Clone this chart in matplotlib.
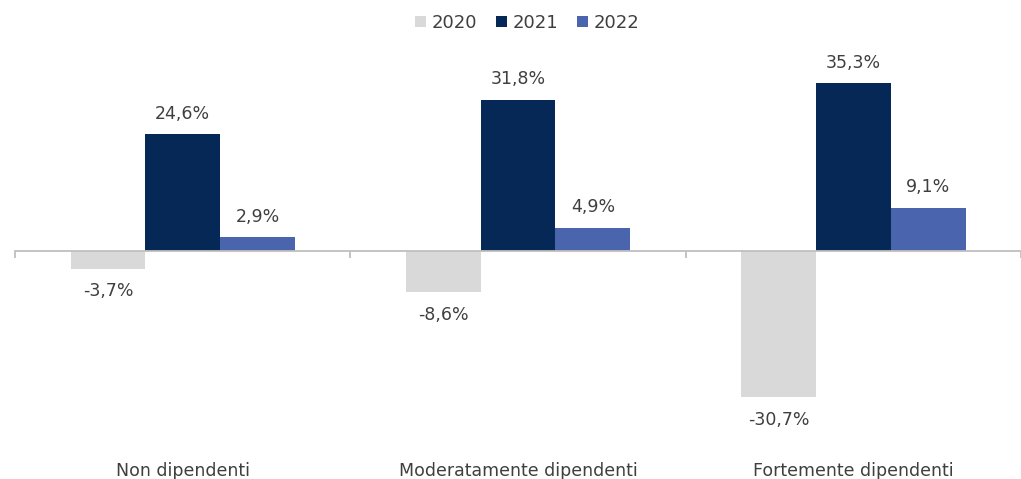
import numpy as np
import matplotlib
matplotlib.use("Agg")
import matplotlib.pyplot as plt
from matplotlib.patches import Patch

# categories and yearly change (%)
categories = ["Non dipendenti", "Moderatamente dipendenti", "Fortemente dipendenti"]
years = ["2020", "2021", "2022"]
val_2020 = [-3.7, -8.6, -30.7]
val_2021 = [24.6, 31.8, 35.3]
val_2022 = [2.9, 4.9, 9.1]

colors = ["#d9d9d9", "#052857", "#4a64ae"]
text_col = "#3f3f3f"

plt.rcParams["font.family"] = ["DejaVu Sans"]

fig = plt.figure(figsize=(10.21, 4.79), dpi=100)
ax = fig.add_axes([0, 0, 1, 1])

x = np.arange(len(categories))
width = 0.223
series = [val_2020, val_2021, val_2022]

for i, (vals, col, yr) in enumerate(zip(series, colors, years)):
	pos = x + (i - 1) * width
	bars = ax.bar(pos, vals, width, color=col, label=yr, zorder=2)
	for b, v in zip(bars, vals):
		lbl = ("%.1f%%" % v).replace(".", ",")
		cx = b.get_x() + b.get_width() / 2
		if v >= 0:
			ax.annotate(lbl, (cx, v), xytext=(0, 14.5), textcoords="offset points",
				ha="center", va="center", fontsize=12.5, color=text_col)
		else:
			ax.annotate(lbl, (cx, v), xytext=(0, -16.5), textcoords="offset points",
				ha="center", va="center", fontsize=12.5, color=text_col)

# category names under the plot
for xi, name in zip(x, categories):
	ax.text(xi, -47.2, name, ha="center", va="baseline", fontsize=12.5, color=text_col)

ax.set_xlim(-0.545, 2.471)
ax.set_ylim(-47.9, 52.7)

for s in ["top", "right", "left"]:
	ax.spines[s].set_visible(False)
ax.spines["bottom"].set_position(("data", 0))
ax.spines["bottom"].set_bounds(-0.5, 2.5)
ax.spines["bottom"].set_color("#bfbfbf")
ax.spines["bottom"].set_linewidth(1.3)
ax.spines["bottom"].set_zorder(3)
ax.set_xticks([-0.5, 0.5, 1.5, 2.5])
ax.set_xticklabels([])
ax.tick_params(axis="x", direction="out", length=5, width=1.3, color="#bfbfbf")
ax.set_yticks([])

handles = [Patch(facecolor=c, label=y) for c, y in zip(colors, years)]
ax.legend(handles=handles, loc="center", bbox_to_anchor=(0.516, 0.952), ncol=3,
	frameon=False, handlelength=0.62, handleheight=0.62, handletextpad=0.3,
	columnspacing=1.05, fontsize=13, labelcolor=text_col,
	borderaxespad=0, borderpad=0)

fig.savefig("out.png", dpi=100)
